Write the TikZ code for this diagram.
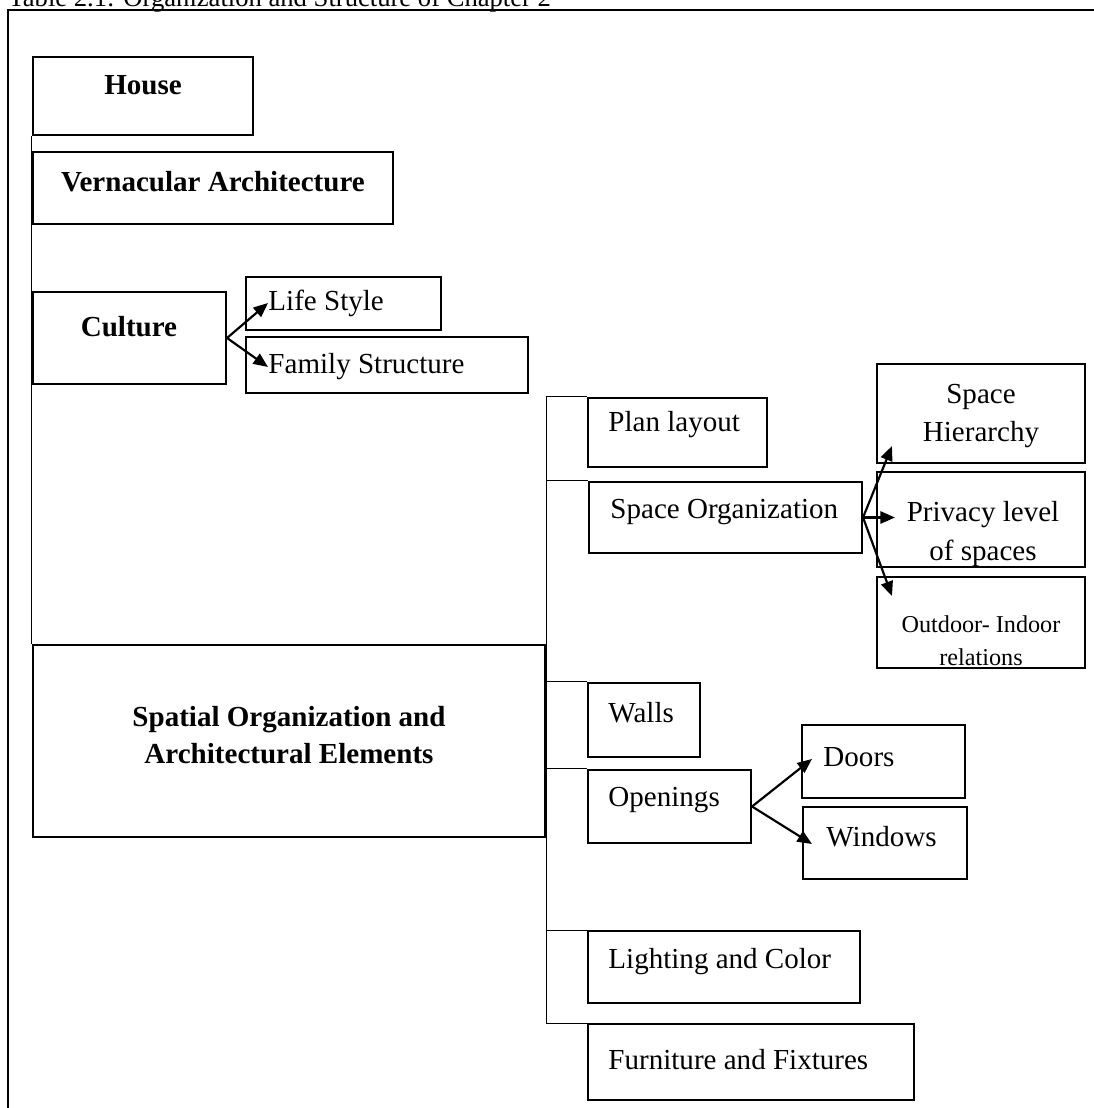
\documentclass[tikz,border=0pt]{standalone}
\usepackage{fontspec}
\setmainfont{Liberation Serif}
\usetikzlibrary{arrows.meta,fit,calc}
\tikzset{
  wbox/.style={draw, line width=0.85pt, inner sep=0pt},
  txt/.style={inner sep=0pt, font=\fontsize{12}{16}\selectfont},
  btxt/.style={txt, font=\fontsize{12}{15}\selectfont\bfseries},
  arr/.style={line width=0.9pt, -{Triangle[length=6pt,width=5pt]}},
  tick/.style={line width=0.4pt}
}
\begin{document}
\begin{tikzpicture}[x=0.4132pt,y=-0.4132pt]
\useasboundingbox (0,0) rectangle (1094,1108);
\clip (0,0) rectangle (1094,1108);
% caption and frame
\node[txt, anchor=base west, font=\fontsize{11}{13}\selectfont] (caption) at (8,6) {Table 2.1: Organization and Structure of Chapter 2};
\draw[line width=0.9pt] (8,1108) -- (8,10) -- (1094,10);

% left column
\node[wbox, fit={(33,57) (253,135)}] (house) {};
\node[wbox, fit={(33,152) (393,224)}] (vern) {};
\node[wbox, fit={(33,292) (226,384)}] (culture) {};
\node[wbox, fit={(246,277) (441,330)}] (life) {};
\node[wbox, fit={(246,337) (528,393)}] (family) {};
\node[wbox, fit={(33,645) (545,837)}] (spatial) {};
\draw[tick] (house.south west) -- (spatial.north west);

\node[btxt] (houseT) at (143,85) {House};
\node[btxt] (vernT) at (213,182) {Vernacular Architecture};
\node[btxt] (cultT) at (129,327) {Culture};
\node[txt, anchor=west] (lifeT) at (268,303) {Life Style};
\node[txt, anchor=west] (famT) at (268,367) {Family Structure};
\node[btxt, align=center] (spatT) at (289,735) {Spatial Organization and\\Architectural Elements};

\draw[arr] (culture.east) -- (lifeT.west);
\draw[arr] (culture.east) -- (famT.west);

% elements
\node[wbox, fit={(588,398) (767,467)}] (plan) {};
\node[wbox, fit={(589,482) (862,553)}] (spaceorg) {};
\node[wbox, fit={(877,364) (1085,463)}] (hier) {};
\node[wbox, fit={(877,472) (1085,567)}] (privacy) {};
\node[wbox, fit={(877,577) (1085,668)}] (outdoor) {};
\node[wbox, fit={(588,683) (700,757)}] (walls) {};
\node[wbox, fit={(588,770) (751,843)}] (openings) {};
\node[wbox, fit={(802,725) (965,798)}] (doors) {};
\node[wbox, fit={(803,807) (967,879)}] (windows) {};
\node[wbox, fit={(588,931) (860,1003)}] (light) {};
\node[wbox, fit={(588,1024) (914,1100)}] (furn) {};

\node[txt, anchor=west] (planT) at (608,425) {Plan layout};
\node[txt, anchor=west] (orgT) at (610,512) {Space Organization};
\node[txt, align=center] (hierT) at (981,416) {Space\\Hierarchy};
\node[txt, align=center] (privT) at (983,534) {Privacy level\\of spaces};
\node[txt, align=center, font=\fontsize{10}{13.5}\selectfont] (outT) at (981,641) {Outdoor- Indoor\\relations};
\node[txt, anchor=west] (wallT) at (608,713) {Walls};
\node[txt, anchor=west] (openT) at (608,800) {Openings};
\node[txt, anchor=west] (doorT) at (823,757) {Doors};
\node[txt, anchor=west] (winT) at (826,837) {Windows};
\node[txt, anchor=west] (lightT) at (608,962) {Lighting and Color};
\node[txt, anchor=west] (furnT) at (608,1060) {Furniture and Fixtures};

% bracket
\draw[tick] (plan.north west) -| (spatial.east |- furn.north west) -- (furn.north west);
\foreach \b in {spaceorg,walls,openings,light}
  \draw[tick] (\b.north west) -- (\b.north west -| spatial.east);

% arrows
\coordinate (hierTip) at ([shift={(16,-18)}]hier.south west);
\coordinate (privTip) at ($(spaceorg.east -| privacy.west)+(19,0)$);
\coordinate (outTip) at ([shift={(16,20)}]outdoor.north west);
\draw[arr] (spaceorg.east) -- (hierTip);
\draw[arr] (spaceorg.east) -- (privTip);
\draw[arr] (spaceorg.east) -- (outTip);
\coordinate (doorTip) at ([shift={(11,35)}]doors.north west);
\coordinate (winTip) at ([shift={(10,38)}]windows.north west);
\draw[arr] (openings.east) -- (doorTip);
\draw[arr] (openings.east) -- (winTip);
\end{tikzpicture}
\end{document}
